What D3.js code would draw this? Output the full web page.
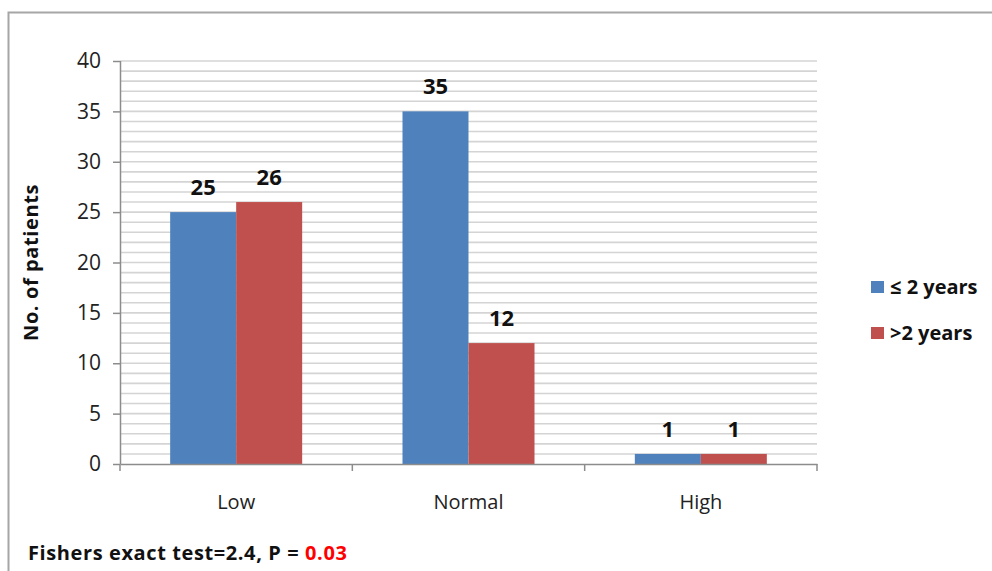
<!DOCTYPE html>
<html>
<head>
<meta charset="utf-8">
<script src="https://cdn.jsdelivr.net/npm/d3@7"></script>
<style>
  html, body { margin: 0; padding: 0; background: #fff; }
  svg { display: block; font-family: "Open Sans", Lato, sans-serif; }
</style>
</head>
<body>
<svg id="chart" width="992" height="571"></svg>
<script>
// Serum level groups and patient counts per disease duration
const categories = ["Low", "Normal", "High"];
const seriesNames = ["\u2264 2 years", ">2 years"];
const shortDuration = [25, 35, 1];
const longDuration = [26, 12, 1];
const yTicks = [0, 5, 10, 15, 20, 25, 30, 35, 40];
const colors = ["#4F81BD", "#C0504D"];

const svg = d3.select("#chart");
const plot = { left: 120, right: 817, top: 61, bottom: 464 };

// Outer frame
svg.append("path")
  .attr("d", "M8.5,571 V12.5 H992")
  .attr("fill", "none").attr("stroke", "#a6a6a6").attr("stroke-width", 2);

const y = d3.scaleLinear().domain([0, 40]).range([plot.bottom, plot.top]);
const x0 = d3.scaleBand().domain(categories).range([plot.left, plot.right]).paddingInner(0).paddingOuter(0);
const x1 = d3.scaleBand().domain([0, 1]).range([0, x0.bandwidth()]).paddingOuter(0.76).paddingInner(0);

// Minor gridlines every unit
svg.append("g").selectAll("line")
  .data(d3.range(1, 41))
  .join("line")
  .attr("x1", plot.left).attr("x2", plot.right)
  .attr("y1", d => y(d)).attr("y2", d => y(d))
  .attr("stroke", "#d4d4d4").attr("stroke-width", 1.6);

// Bars
const rows = categories.map((c, i) => ({ cat: c, vals: [shortDuration[i], longDuration[i]] }));
const groups = svg.append("g").selectAll("g")
  .data(rows).join("g")
  .attr("transform", d => `translate(${x0(d.cat)},0)`);

groups.selectAll("rect")
  .data(d => d.vals.map((v, k) => ({ v, k })))
  .join("rect")
  .attr("x", d => x1(d.k))
  .attr("width", x1.bandwidth())
  .attr("y", d => y(d.v))
  .attr("height", d => y(0) - y(d.v))
  .attr("fill", d => colors[d.k]);

// Value labels
groups.selectAll("text")
  .data(d => d.vals.map((v, k) => ({ v, k })))
  .join("text")
  .attr("x", d => x1(d.k) + x1.bandwidth() / 2)
  .attr("y", d => y(d.v) - 17)
  .attr("text-anchor", "middle")
  .attr("font-size", 22).attr("font-weight", "bold").attr("fill", "#111")
  .text(d => d.v);

// Y axis
const yAxis = svg.append("g")
  .attr("transform", `translate(${plot.left},0)`)
  .call(d3.axisLeft(y).tickValues(yTicks).tickSize(7).tickPadding(12));
yAxis.select(".domain").attr("stroke", "#8c8c8c").attr("stroke-width", 1.5).attr("d", `M0.5,${plot.top}V${plot.bottom}`);
yAxis.selectAll(".tick line").attr("stroke", "#8c8c8c").attr("stroke-width", 1.5);
yAxis.selectAll(".tick text").attr("font-size", 21).attr("fill", "#222").attr("font-family", "'Open Sans', sans-serif");

// X axis
const xAxis = svg.append("g")
  .attr("transform", `translate(0,${plot.bottom})`)
  .call(d3.axisBottom(x0).tickSize(0).tickPadding(31));
xAxis.select(".domain").attr("stroke", "#8c8c8c").attr("stroke-width", 1.5);
xAxis.selectAll(".tick text").attr("font-size", 20).attr("fill", "#222").attr("font-family", "'Open Sans', sans-serif");
// Category separator ticks
svg.append("g").selectAll("line")
  .data(categories.map(c => x0(c)).concat([x0.range()[1]]))
  .join("line")
  .attr("x1", d => d).attr("x2", d => d)
  .attr("y1", plot.bottom).attr("y2", plot.bottom + 7)
  .attr("stroke", "#8c8c8c").attr("stroke-width", 1.5);

// Y axis title
svg.append("text")
  .attr("transform", `translate(38,${(plot.top + plot.bottom) / 2}) rotate(-90)`)
  .attr("text-anchor", "middle")
  .attr("font-size", 20).attr("font-weight", "bold").attr("fill", "#111")
  .attr("letter-spacing", 0.6)
  .text("No. of patients");

// Legend
const legend = svg.append("g").selectAll("g")
  .data(seriesNames).join("g")
  .attr("transform", (d, i) => `translate(871,${281 + i * 46})`);
legend.append("rect").attr("width", 13).attr("height", 12).attr("fill", (d, i) => colors[i]);
legend.append("text")
  .attr("x", 19).attr("y", 13)
  .attr("font-size", 20).attr("fill", "#111").attr("font-weight", "bold")
  .text(d => d);

// Footnote
const note = svg.append("text")
  .attr("x", 28).attr("y", 560)
  .attr("font-size", 20).attr("font-weight", "bold").attr("fill", "#111")
  .attr("letter-spacing", 0.6);
note.append("tspan").text("Fishers exact test=2.4, P = ");
note.append("tspan").attr("fill", "#ff0000").text("0.03");
</script>
</body>
</html>
